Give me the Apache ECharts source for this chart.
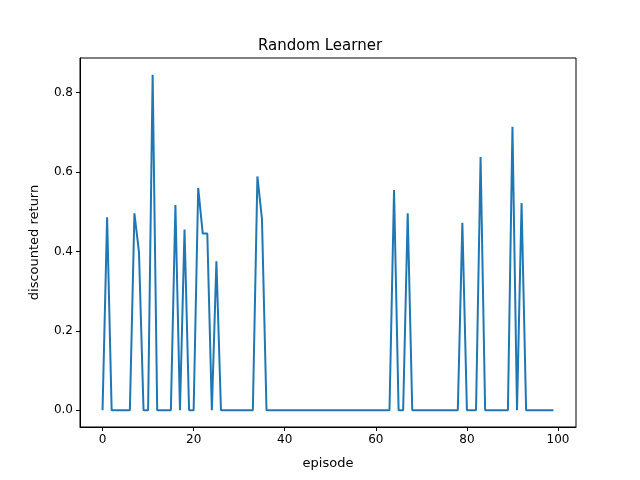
<!DOCTYPE html>
<html><head><meta charset="utf-8">
<script src="https://cdn.jsdelivr.net/npm/echarts@6/dist/echarts.min.js"></script>
<style>html,body{margin:0;padding:0;background:#fff}#c{width:640px;height:480px}</style>
</head><body><div id="c"></div>
<script>
const values = [0,0.486,0,0,0,0,0,0.496,0.398,0,0,0.845,0,0,0,0,0.517,0,0.455,0,0,0.560,0.445,0.445,0,0.375,0,0,0,0,0,0,0,0,0.589,0.482,0,0,0,0,0,0,0,0,0,0,0,0,0,0,0,0,0,0,0,0,0,0,0,0,0,0,0,0,0.555,0,0,0.496,0,0,0,0,0,0,0,0,0,0,0,0.472,0,0,0,0.638,0,0,0,0,0,0,0.714,0,0.522,0,0,0,0,0,0,0];
const xTicks = [0,20,40,60,80,100];
const yTicks = [0,0.2,0.4,0.6,0.8];
const data = values.map((v,i)=>[i,v]);
const font = 'DejaVu Sans';
const chart = echarts.init(document.getElementById('c'));
chart.setOption({
  animation:false,
  title:{text:'Random Learner',left:'center',top:34,textStyle:{fontFamily:font,fontSize:15,fontWeight:'normal',color:'#000'}},
  grid:{left:80,right:64,top:58,bottom:53},
  xAxis:{type:'value',min:-4.95,max:103.95,name:'episode',nameLocation:'middle',nameGap:30,
    nameTextStyle:{fontFamily:font,fontSize:13,color:'#000'},
    axisLine:{onZero:false,lineStyle:{color:'#000'}},splitLine:{show:false},
    axisTick:{customValues:xTicks,length:4,lineStyle:{color:'#000'}},
    axisLabel:{customValues:xTicks,fontFamily:font,fontSize:12,color:'#000',margin:7}},
  yAxis:{type:'value',min:-0.0423,max:0.8873,name:'discounted return',nameLocation:'middle',nameGap:39,
    nameTextStyle:{fontFamily:font,fontSize:13,color:'#000'},
    axisLine:{show:true,onZero:false,lineStyle:{color:'#000'}},splitLine:{show:false},
    axisTick:{show:true,customValues:yTicks,length:4,lineStyle:{color:'#000'}},
    axisLabel:{customValues:yTicks,formatter:v=>v.toFixed(1),fontFamily:font,fontSize:12,color:'#000',margin:7}},
  series:[{type:'line',data:data,showSymbol:false,lineStyle:{color:'#1f77b4',width:2},clip:true}],
  graphic:[{type:'rect',shape:{x:80,y:58,width:496,height:369},style:{fill:'none',stroke:'#000',lineWidth:1},silent:true}]
});
</script>
</body></html>
